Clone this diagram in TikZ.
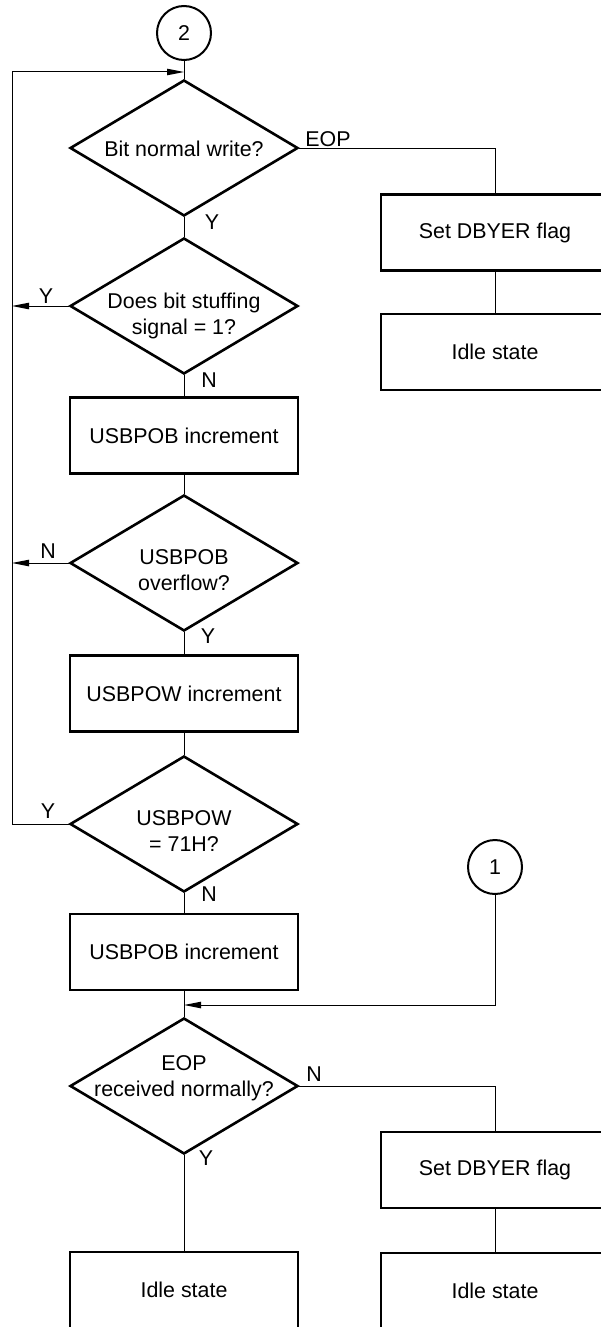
\documentclass[tikz,border=0pt]{standalone}
\usepackage{fontspec}
\setmainfont{Liberation Sans}
\usetikzlibrary{arrows.meta, shapes.geometric}
\tikzset{
  every picture/.style={font=\fontsize{10.7}{13}\selectfont, line width=0.5pt, x=0.5pt, y=-0.5pt},
  proc/.style={draw, line width=1.3pt, minimum width=114pt, minimum height=38pt, inner sep=0pt, align=center},
  decide/.style={draw, diamond, line width=1.3pt, aspect=1.69, minimum width=114pt, minimum height=68pt, inner sep=0pt},
  dtext/.style={align=center, inner sep=0pt, yshift=#1},
  dtext/.default=0pt,
  conn/.style={draw, circle, line width=1pt, minimum size=27pt, inner sep=0pt},
  flow/.style={-{Triangle[length=8.5pt, width=3.2pt]}},
  yn/.style={inner sep=0pt},
}
\begin{document}
\begin{tikzpicture}
  \useasboundingbox (0,0) rectangle (600,1327);
  % main column
  \node[conn] (c2) at (184,33) {2};
  \node[decide, label={[dtext=-0.5pt]center:Bit normal write?}] (d1) at (184,148) {};
  \node[decide, label={[dtext=-4.75pt]center:Does bit stuffing\\ signal = 1?}] (d2) at (184,306) {};
  \node[proc] (pob1) at (184,435.5) {USBPOB increment};
  \node[decide, label={[dtext=-3.5pt]center:USBPOB\\ overflow?}] (d3) at (184,563) {};
  \node[proc] (pow) at (184,693.5) {USBPOW increment};
  \node[decide, label={[dtext=-3.75pt]center:USBPOW\\ = 71H?}] (d4) at (184,824) {};
  \node[proc] (pob2) at (184,952) {USBPOB increment};
  \node[decide, label={[dtext=4pt]center:EOP\\ received normally?}] (d5) at (184,1086) {};
  \node[proc] (idleL) at (184,1290) {Idle state};
  % right column
  \node[proc] (setA) at (495,232.5) {Set DBYER flag};
  \node[proc] (idleA) at (495,352) {Idle state};
  \node[conn] (c1) at (495,867) {1};
  \node[proc] (setB) at (495,1170) {Set DBYER flag};
  \node[proc] (idleB) at (495,1291) {Idle state};
  % branch labels
  \node[yn] (lEOP) at (328,139) {EOP};
  \node[yn] (lY1) at (212,222) {Y};
  \node[yn] (lY2) at (46,296) {Y};
  \node[yn] (lN2) at (209,380) {N};
  \node[yn] (lN3) at (48,551) {N};
  \node[yn] (lY3) at (208,636) {Y};
  \node[yn] (lY4) at (48,811) {Y};
  \node[yn] (lN4) at (209,894) {N};
  \node[yn] (lN5) at (314,1074) {N};
  \node[yn] (lY5) at (206,1158) {Y};
  \coordinate (top) at (184,72);
  \coordinate (left) at (12,72);
  \coordinate (merge) at (184,1005);
  % connectors
  \draw (c2) -- (d1);
  \draw (d1) -- (d2);
  \draw (d2) -- (pob1);
  \draw (pob1) -- (d3);
  \draw (d3) -- (pow);
  \draw (pow) -- (d4);
  \draw (d4) -- (pob2);
  \draw (pob2) -- (d5);
  \draw (d5) -- (idleL);
  \draw[flow] (d4.west) -| (left) -- (top);
  \draw[flow] (d2.west) -- (d2.west -| left);
  \draw[flow] (d3.west) -- (d3.west -| left);
  \draw (d1.east) -| (setA);
  \draw (setA) -- (idleA);
  \draw[flow] (c1) |- (merge);
  \draw (d5.east) -| (setB);
  \draw (setB) -- (idleB);
\end{tikzpicture}
\end{document}
